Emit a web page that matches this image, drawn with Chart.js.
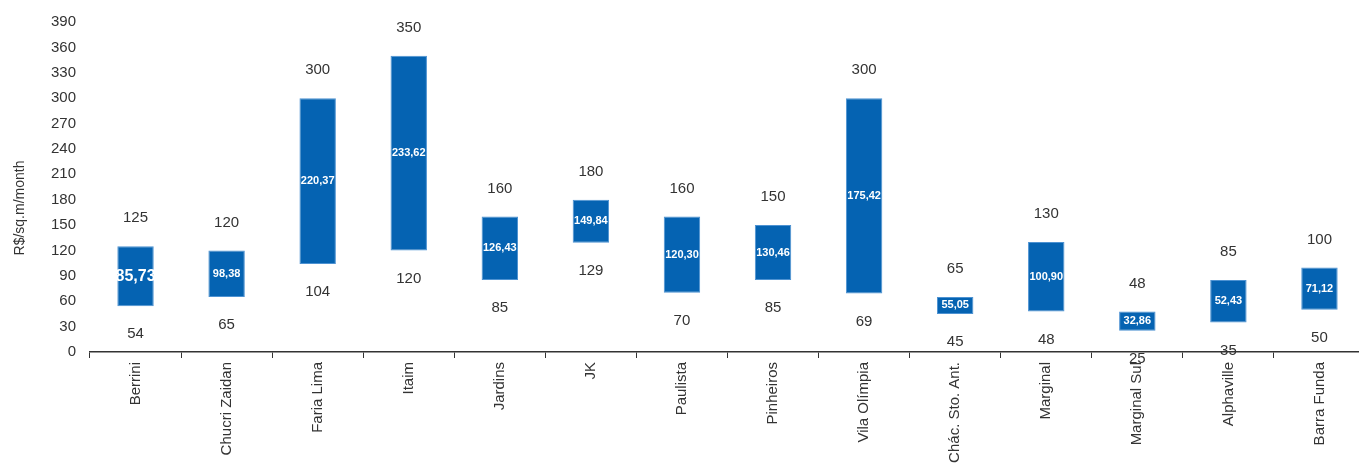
<!DOCTYPE html>
<html>
<head>
<meta charset="utf-8">
<script src="https://cdn.jsdelivr.net/npm/chart.js@4"></script>
<style>
  html, body { margin: 0; padding: 0; overflow: hidden; background: #fff; }
  #wrap { width: 1365px; height: 468px; }
</style>
</head>
<body>
<div id="wrap"><canvas id="rentChart"></canvas></div>
<script>
// data
const regions = ['Berrini', 'Chucri Zaidan', 'Faria Lima', 'Itaim', 'Jardins', 'JK', 'Paulista',
  'Pinheiros', 'Vila Olímpia', 'Chác. Sto. Ant.', 'Marginal', 'Marginal Sul', 'Alphaville', 'Barra Funda'];
const minRent = [54, 65, 104, 120, 85, 129, 70, 85, 69, 45, 48, 25, 35, 50];
const maxRent = [125, 120, 300, 350, 160, 180, 160, 150, 300, 65, 130, 48, 85, 100];
const avgRent = [85.73, 98.38, 220.37, 233.62, 126.43, 149.84, 120.30, 130.46, 175.42, 55.05, 100.90, 32.86, 52.43, 71.12];
const yMax = 390;
const yStep = 30;
const yTitle = 'R$/sq.m/month';

const FONT = "'Liberation Sans', Arial, sans-serif";
const TXT = '#333333';

const fmt = v => v.toFixed(2).replace('.', ',');

// min / max / average labels + the y title
const labelPlugin = {
  id: 'rangeLabels',
  afterDatasetsDraw(chart) {
    const { ctx } = chart;
    const y = chart.scales.y;
    const meta = chart.getDatasetMeta(0);
    ctx.save();
    ctx.textAlign = 'center';
    ctx.textBaseline = 'middle';
    meta.data.forEach((bar, i) => {
      const top = y.getPixelForValue(maxRent[i]);
      const bottom = y.getPixelForValue(minRent[i]);
      ctx.fillStyle = TXT;
      ctx.font = '15px ' + FONT;
      ctx.fillText(String(maxRent[i]), bar.x, top - 28);
      ctx.fillText(String(minRent[i]), bar.x, bottom + 28);
      ctx.fillStyle = '#ffffff';
      ctx.font = (i === 0 ? 'bold 16px ' : 'bold 11px ') + FONT;
      ctx.fillText(fmt(avgRent[i]), bar.x, (top + bottom) / 2);
    });
    // axis title
    ctx.translate(20, 208);
    ctx.rotate(-Math.PI / 2);
    ctx.fillStyle = TXT;
    ctx.font = '14px ' + FONT;
    ctx.fillText(yTitle, 0, 0);
    ctx.restore();
  }
};

new Chart(document.getElementById('rentChart'), {
  type: 'bar',
  data: {
    labels: regions,
    datasets: [{
      data: regions.map((r, i) => [minRent[i], maxRent[i]]),
      backgroundColor: '#0563b2',
      borderColor: '#4d92d2',
      borderWidth: 1,
      borderSkipped: false,
      barPercentage: 0.4,
      categoryPercentage: 1
    }]
  },
  options: {
    responsive: true,
    maintainAspectRatio: false,
    animation: false,
    layout: { padding: { top: 22, right: 0, left: 0, bottom: 0 } },
    plugins: { legend: { display: false }, tooltip: { enabled: false } },
    scales: {
      x: {
        offset: true,
        grid: { display: true, drawOnChartArea: false, offset: true, color: '#333', tickLength: 6, lineWidth: 1 },
        border: { display: true, color: '#333', width: 1.5 },
        ticks: { color: TXT, font: { family: FONT, size: 15 }, minRotation: 90, maxRotation: 90, padding: 4, autoSkip: false },
        afterFit(scale) { scale.height = 116; }
      },
      y: {
        min: 0,
        max: yMax,
        grid: { display: false },
        border: { display: false },
        ticks: { stepSize: yStep, color: TXT, font: { family: FONT, size: 15 }, padding: 6 },
        afterFit(scale) { scale.width = 90; }
      }
    }
  },
  plugins: [labelPlugin]
});
</script>
</body>
</html>
